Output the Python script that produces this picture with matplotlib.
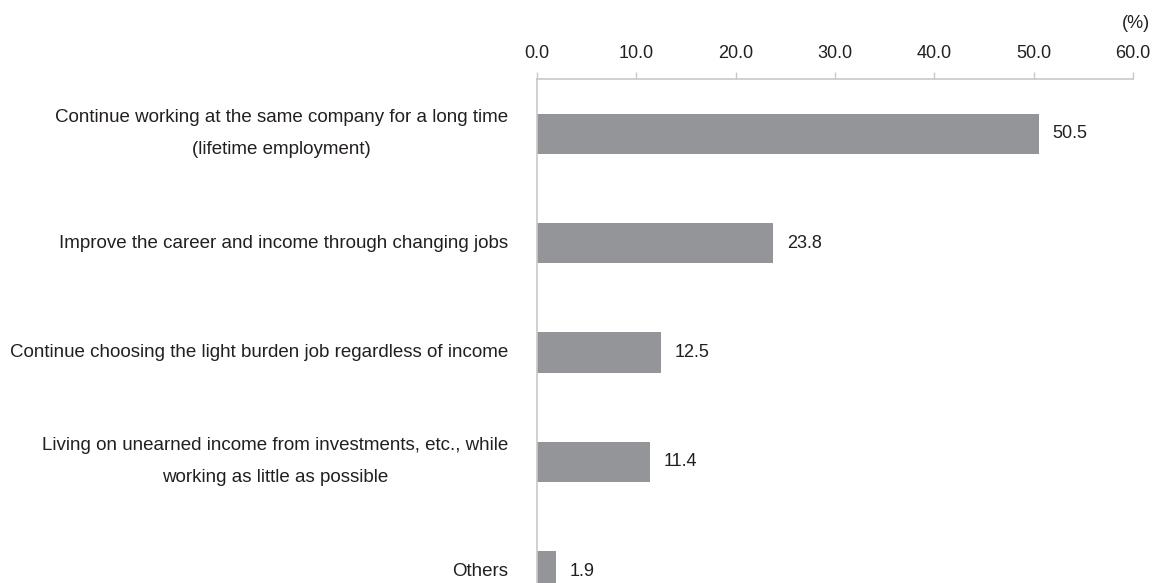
import matplotlib
matplotlib.use("Agg")
import matplotlib.pyplot as plt

plt.rcParams['font.family'] = ['Liberation Sans', 'DejaVu Sans']

categories = [
    "Continue working at the same company for a long time\n(lifetime employment)",
    "Improve the career and income through changing jobs",
    "Continue choosing the light burden job regardless of income",
    "Living on unearned income from investments, etc., while\nworking as little as possible",
    "Others",
]
values = [50.5, 23.8, 12.5, 11.4, 1.9]
xticks = [0, 10, 20, 30, 40, 50, 60]

bar_color = "#939598"
line_color = "#c8c8c8"
text_color = "#231f20"

fig = plt.figure(figsize=(11.58, 5.83), dpi=100)
ax = fig.add_axes([0.4637, -0.0738, 0.5147, 0.9383])

pos = list(range(len(categories)))
ax.barh(pos, values, height=0.366, color=bar_color)
for p, v in zip(pos, values):
    ax.text(v + 1.4, p, f"{v:.1f}", va="center", ha="left",
            fontsize=13, color=text_color)

ax.set_xlim(0, 60)
ax.set_ylim(len(categories) - 0.5, -0.5)
ax.xaxis.tick_top()
ax.set_xticks(xticks)
ax.set_xticklabels([f"{t:.1f}" for t in xticks], fontsize=13, color=text_color)
ax.tick_params(axis="x", length=5, width=1, color=line_color, pad=7)

ax.set_yticks(pos)
ax.set_yticklabels(categories, fontsize=13.5, color=text_color, va="center",
                   multialignment="center", linespacing=2.15)
ax.tick_params(axis="y", length=0, pad=21)

for s in ["right", "bottom"]:
    ax.spines[s].set_visible(False)
for s in ["top", "left"]:
    ax.spines[s].set_color(line_color)
    ax.spines[s].set_linewidth(1.2)

fig.text(0.993, 0.96, "(%)", ha="right", va="center", fontsize=13, color=text_color)

fig.savefig("out.png", dpi=100)
